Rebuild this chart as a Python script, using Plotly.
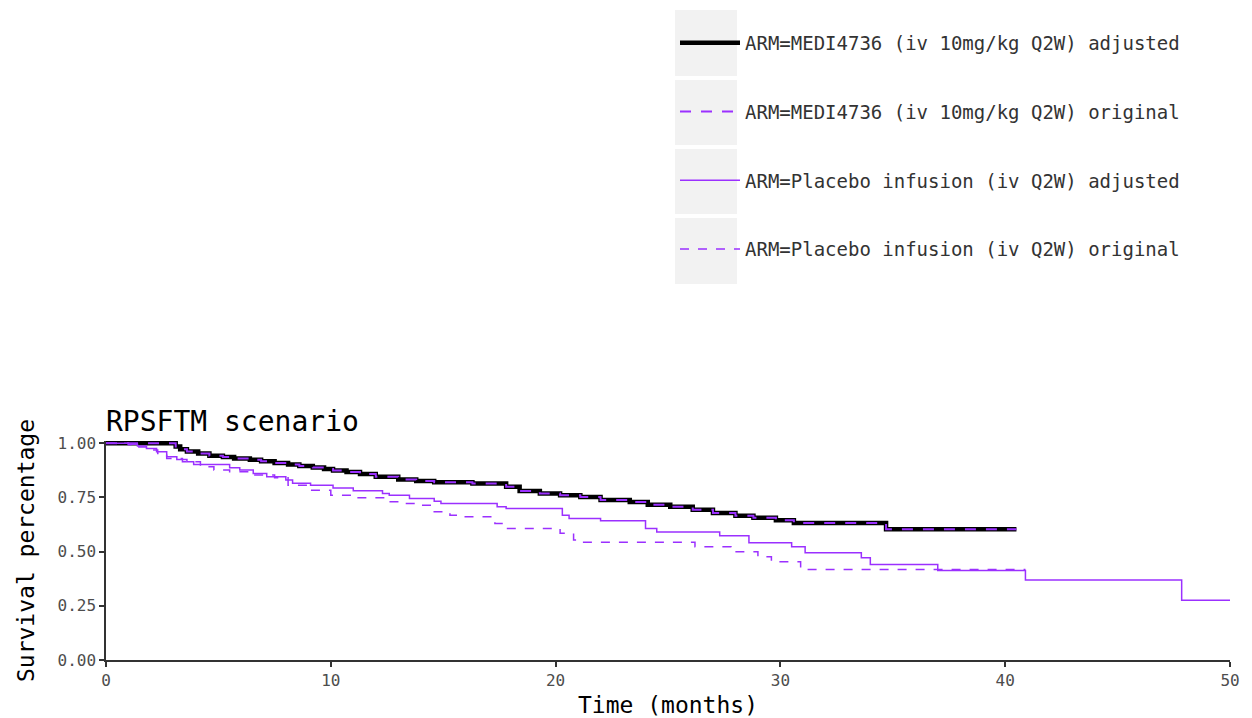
import plotly.graph_objects as go

# Kaplan-Meier step curves (time in months, survival proportion)
medi_time = [0, 3.1, 3.3, 3.6, 4.1, 4.6, 5.2, 5.7, 6.4, 6.9, 7.5, 8.1, 8.6, 9.2, 9.7,
             10.1, 10.7, 11.3, 12.0, 13.0, 13.8, 14.6, 16.3, 17.8, 18.4, 19.3, 20.2,
             21.1, 22.0, 23.3, 24.1, 25.1, 26.1, 27.0, 28.0, 28.8, 29.8, 30.6, 34.7, 40.5]
medi_surv = [1.0, 0.985, 0.972, 0.962, 0.952, 0.942, 0.936, 0.929, 0.923, 0.917, 0.909,
             0.902, 0.895, 0.888, 0.881, 0.874, 0.867, 0.858, 0.845, 0.832, 0.826, 0.820,
             0.814, 0.799, 0.779, 0.768, 0.760, 0.752, 0.738, 0.729, 0.716, 0.707, 0.693,
             0.678, 0.665, 0.656, 0.644, 0.632, 0.603, 0.603]

placebo_adj_time = [0, 1.0, 1.4, 1.8, 2.25, 2.7, 3.15, 3.6, 3.9, 5.5, 5.95, 6.55, 7.15,
                    8.0, 8.3, 9.1, 10.1, 11.0, 12.3, 12.6, 13.5, 14.6, 14.9, 17.4, 17.8,
                    20.3, 20.6, 22.0, 24.0, 24.5, 27.3, 28.6, 30.5, 31.1, 33.6, 34.0,
                    37.0, 40.9, 47.85, 50.0]
placebo_adj_surv = [1.0, 0.995, 0.987, 0.975, 0.960, 0.937, 0.925, 0.914, 0.902, 0.887,
                    0.876, 0.860, 0.845, 0.830, 0.815, 0.806, 0.793, 0.780, 0.768, 0.760,
                    0.745, 0.732, 0.722, 0.707, 0.699, 0.668, 0.653, 0.642, 0.607, 0.590,
                    0.573, 0.541, 0.522, 0.495, 0.472, 0.440, 0.413, 0.369, 0.276, 0.276]

placebo_orig_time = [0, 1.0, 1.4, 1.9, 2.3, 2.7, 3.4, 4.2, 4.8, 5.5, 6.5, 7.5, 8.1, 9.0,
                     10.0, 11.1, 12.5, 13.1, 14.0, 14.5, 15.3, 15.9, 17.3, 17.8, 20.2,
                     20.8, 21.0, 26.2, 27.8, 29.0, 29.6, 30.9, 40.9]
placebo_orig_surv = [1.0, 0.993, 0.982, 0.968, 0.952, 0.929, 0.914, 0.891, 0.876, 0.868,
                     0.853, 0.840, 0.806, 0.783, 0.760, 0.748, 0.730, 0.722, 0.714, 0.684,
                     0.668, 0.661, 0.630, 0.607, 0.584, 0.553, 0.543, 0.522, 0.499, 0.476,
                     0.453, 0.417, 0.417]

series_names = [
    "ARM=MEDI4736 (iv 10mg/kg Q2W) adjusted",
    "ARM=MEDI4736 (iv 10mg/kg Q2W) original",
    "ARM=Placebo infusion (iv Q2W) adjusted",
    "ARM=Placebo infusion (iv Q2W) original",
]

x_ticks = [0, 10, 20, 30, 40, 50]
y_ticks = [0.0, 0.25, 0.5, 0.75, 1.0]
y_tick_text = ["0.00", "0.25", "0.50", "0.75", "1.00"]

PURPLE = "#9B30FF"
MONO = "DejaVu Sans Mono"

fig = go.Figure()
fig.add_trace(go.Scatter(x=medi_time, y=medi_surv, mode="lines", line_shape="hv",
                         name=series_names[0], legendgroup="a",
                         line=dict(color="black", width=4.5)))
fig.add_trace(go.Scatter(x=medi_time, y=medi_surv, mode="lines", line_shape="hv",
                         name=series_names[1], legendgroup="b",
                         line=dict(color=PURPLE, width=2, dash="11px,10px")))
fig.add_trace(go.Scatter(x=placebo_adj_time, y=placebo_adj_surv, mode="lines",
                         line_shape="hv", name=series_names[2], legendgroup="c",
                         line=dict(color=PURPLE, width=1.5)))
fig.add_trace(go.Scatter(x=placebo_orig_time, y=placebo_orig_surv, mode="lines",
                         line_shape="hv", name=series_names[3], legendgroup="d",
                         line=dict(color=PURPLE, width=1.5, dash="9px,9px")))

# light grey key backgrounds behind the legend symbols
L, T, B = 106, 441, 660
W, H = 1124, B - T
def px_x(p):
    return (p - L) / W
def px_y(p):
    return (B - p) / H
key_rows = [(10, 76), (80, 145), (149, 214), (218, 284)]
for top, bot in key_rows:
    fig.add_shape(type="rect", xref="paper", yref="paper",
                  x0=px_x(675), x1=px_x(737), y0=px_y(bot), y1=px_y(top),
                  fillcolor="#F2F2F2", line=dict(width=0), layer="below")

axis_common = dict(showgrid=False, zeroline=False, showline=True, linecolor="#333333",
                   linewidth=1.5, ticks="outside", ticklen=5, tickwidth=1.5,
                   tickcolor="#333333", tickfont=dict(family=MONO, size=16, color="#4D4D4D"),
                   mirror=False)

fig.update_layout(
    width=1252, height=718,
    margin=dict(l=L, r=1252 - L - W, t=T, b=718 - B, autoexpand=False),
    paper_bgcolor="white", plot_bgcolor="white",
    title=dict(text="RPSFTM scenario", x=0, xref="paper", xanchor="left",
               y=1, yref="paper", yanchor="bottom", pad=dict(b=10),
               font=dict(family=MONO, size=28, color="black")),
    xaxis=dict(range=[0, 50], tickvals=x_ticks,
               title=dict(text="Time (months)", standoff=8,
                          font=dict(family=MONO, size=23, color="black")),
               **axis_common),
    yaxis=dict(range=[0, 1.01], tickvals=y_ticks, ticktext=y_tick_text,
               title=dict(text="Survival percentage", standoff=16,
                          font=dict(family=MONO, size=23, color="black")),
               **axis_common),
    legend=dict(x=675 / 1252, xref="container", xanchor="left",
                y=1 - 24 / 718, yref="container", yanchor="top",
                traceorder="grouped", tracegroupgap=41,
                bgcolor="rgba(0,0,0,0)", itemwidth=60,
                font=dict(family=MONO, size=19, color="#333333")),
    showlegend=True,
)

fig.write_html("out.html")
